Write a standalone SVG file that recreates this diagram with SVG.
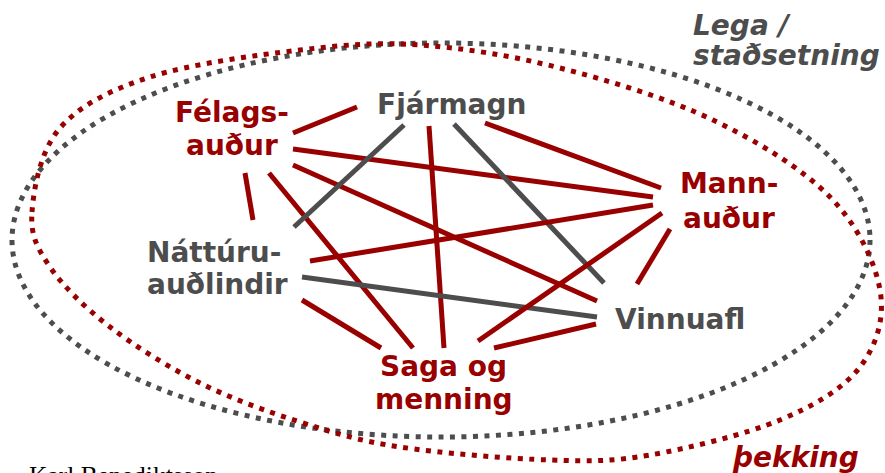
<svg xmlns="http://www.w3.org/2000/svg" width="885" height="473" viewBox="0 0 885 473">
  <style>
    .lbl { font-family: "DejaVu Sans", Verdana, sans-serif; font-weight: bold; font-size: 28px; }
    .red { fill: #990000; }
    .gry { fill: #4d4d4d; }
    .it { font-style: italic; }
    .dots { fill: none; stroke-width: 5; stroke-dasharray: 5 6.5; }
    .c line { stroke-width: 5; stroke-linecap: butt; }
    .cr { stroke: #990000; }
    .cg { stroke: #4d4d4d; }
  </style>
  <rect width="885" height="473" fill="#ffffff"/>

  <g id="area-lega">
    <ellipse class="dots" cx="441" cy="240" rx="429" ry="197" stroke="#4d4d4d"/>
    <text class="lbl gry it" x="693" y="35">Lega /</text>
    <text class="lbl gry it" x="693" y="65">staðsetning</text>
  </g>
  <g id="area-thekking">
    <path class="dots" stroke="#990000" d="M32,212 C33.7,188.8 40.3,150.5 60,128 C79.7,105.5 110,90 150,77 C190,64 255,55.3 300,50 C345,44.7 376.7,42 420,45 C463.3,48 511.2,55.5 560,68 C608.8,80.5 668,98.5 713,120 C758,141.5 802.2,168.7 830,197 C857.8,225.3 875,261.7 880,290 C885,318.3 876.7,345.3 860,367 C843.3,388.7 815,405.3 780,420 C745,434.7 688.3,448.3 650,455 C611.7,461.7 591.7,461.3 550,460 C508.3,458.7 441.7,453.3 400,447 C358.3,440.7 333.3,432.7 300,422 C266.7,411.3 231.7,398.8 200,383 C168.3,367.2 135,346.3 110,327 C85,307.7 63,286.2 50,267 C37,247.8 30.3,235.2 32,212 Z"/>
    <text class="lbl red it" x="733" y="467">þekking</text>
  </g>

  <g id="connectors" class="c">
    <line class="cr" x1="293" y1="133" x2="357" y2="107"/>
    <line class="cr" x1="293" y1="149" x2="653" y2="197"/>
    <line class="cr" x1="293" y1="165" x2="597" y2="301"/>
    <line class="cr" x1="245" y1="173" x2="253" y2="220"/>
    <line class="cr" x1="269" y1="173" x2="413" y2="348"/>
    <line class="cg" x1="404" y1="125" x2="294" y2="227"/>
    <line class="cr" x1="429" y1="126" x2="444" y2="348"/>
    <line class="cg" x1="454" y1="124" x2="604" y2="283"/>
    <line class="cr" x1="485" y1="123" x2="661" y2="188"/>
    <line class="cr" x1="310" y1="261" x2="653" y2="205"/>
    <line class="cg" x1="302" y1="277" x2="597" y2="317"/>
    <line class="cr" x1="302" y1="300" x2="381" y2="348"/>
    <line class="cr" x1="478" y1="341" x2="662" y2="213"/>
    <line class="cr" x1="494" y1="348" x2="596" y2="324"/>
    <line class="cr" x1="670" y1="229" x2="637" y2="284"/>
  </g>

  <g id="node-felagsaudur">
    <text class="lbl red" x="175" y="122">Félags-</text>
    <text class="lbl red" x="186" y="155">auður</text>
  </g>
  <g id="node-fjarmagn">
    <text class="lbl gry" x="377" y="114">Fjármagn</text>
  </g>
  <g id="node-mannaudur">
    <text class="lbl red" x="680" y="193">Mann-</text>
    <text class="lbl red" x="683" y="228">auður</text>
  </g>
  <g id="node-natturuaudlindir">
    <text class="lbl gry" x="147" y="262">Náttúru-</text>
    <text class="lbl gry" x="147" y="294">auðlindir</text>
  </g>
  <g id="node-vinnuafl">
    <text class="lbl gry" x="615" y="329">Vinnuafl</text>
  </g>
  <g id="node-saga">
    <text class="lbl red" x="380" y="376">Saga og</text>
    <text class="lbl red" x="375" y="409">menning</text>
  </g>

  <text x="29" y="484" font-family="'Liberation Serif', 'Times New Roman', serif" font-size="25.5" fill="#000000">Karl Benediktsson</text>
</svg>
